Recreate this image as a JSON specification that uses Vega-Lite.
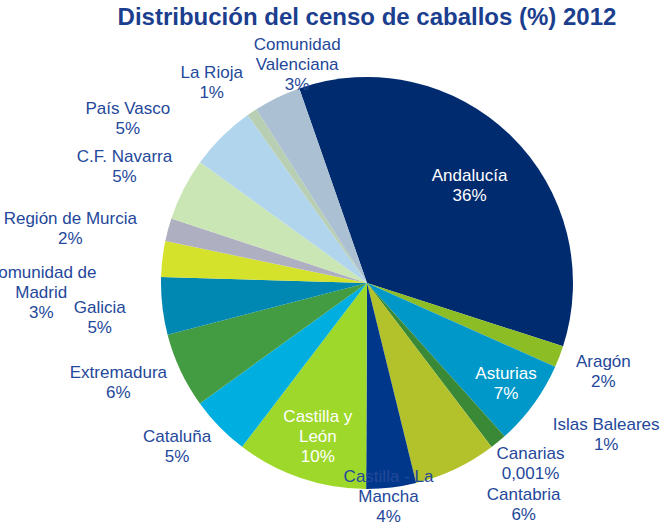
{
  "$schema": "https://vega.github.io/schema/vega-lite/v6.json",
  "width": 600,
  "height": 400,
  "autosize": {"type": "none"},
  "padding": {"left": 67, "top": 83, "right": 1, "bottom": 45},
  "background": "white",
  "view": {"stroke": null},
  "title": {
    "text": "Distribución del censo de caballos (%) 2012",
    "font": "Liberation Sans",
    "fontSize": 24,
    "fontWeight": "bold",
    "color": "#1b3e8e",
    "baseline": "alphabetic",
    "offset": -106,
    "frame": "group"
  },
  "config": {
    "text": {"font": "Liberation Sans", "fontSize": 17, "lineBreak": "\n", "lineHeight": 20, "align": "center", "baseline": "middle", "fill": "#24489a"}
  },
  "data": {
    "values": [
      {"orden": 1, "region": "Andalucía", "valor": 35.3, "label": "Andalucía\n36%"},
      {"orden": 2, "region": "Aragón", "valor": 1.7, "label": "Aragón\n2%"},
      {"orden": 3, "region": "Asturias", "valor": 6.7, "label": "Asturias\n7%"},
      {"orden": 4, "region": "Islas Baleares", "valor": 1.3, "label": "Islas Baleares\n1%"},
      {"orden": 5, "region": "Canarias", "valor": 0.001, "label": "Canarias\n0,001%"},
      {"orden": 6, "region": "Cantabria", "valor": 6.5, "label": "Cantabria\n6%"},
      {"orden": 7, "region": "Castilla - La Mancha", "valor": 3.9, "label": "Castilla - La\nMancha\n4%"},
      {"orden": 8, "region": "Castilla y León", "valor": 10.3, "label": "Castilla y\nLeón\n10%"},
      {"orden": 9, "region": "Cataluña", "valor": 4.7, "label": "Cataluña\n5%"},
      {"orden": 10, "region": "Extremadura", "valor": 5.9, "label": "Extremadura\n6%"},
      {"orden": 11, "region": "Galicia", "valor": 4.5, "label": "Galicia\n5%"},
      {"orden": 12, "region": "Comunidad de Madrid", "valor": 2.8, "label": "Comunidad de\nMadrid\n3%"},
      {"orden": 13, "region": "Región de Murcia", "valor": 1.8, "label": "Región de Murcia\n2%"},
      {"orden": 14, "region": "C.F. Navarra", "valor": 4.9, "label": "C.F. Navarra\n5%"},
      {"orden": 15, "region": "País Vasco", "valor": 5.2, "label": "País Vasco\n5%"},
      {"orden": 16, "region": "La Rioja", "valor": 0.8, "label": "La Rioja\n1%"},
      {"orden": 17, "region": "Comunidad Valenciana", "valor": 3.7, "label": "Comunidad\nValenciana\n3%"}
    ]
  },
  "encoding": {
    "theta": {"field": "valor", "type": "quantitative", "stack": true, "scale": {"range": [-0.3351, 5.9481]}},
    "order": {"field": "orden", "type": "quantitative"}
  },
  "layer": [
    {
      "mark": {"type": "arc", "radius": 206},
      "encoding": {
        "color": {
          "field": "region",
          "type": "nominal",
          "legend": null,
          "scale": {
            "domain": ["Andalucía", "Aragón", "Asturias", "Islas Baleares", "Canarias", "Cantabria", "Castilla - La Mancha", "Castilla y León", "Cataluña", "Extremadura", "Galicia", "Comunidad de Madrid", "Región de Murcia", "C.F. Navarra", "País Vasco", "La Rioja", "Comunidad Valenciana"],
            "range": ["#002b6f", "#8dbd25", "#0098c8", "#3a8936", "#5b9bd5", "#b3c22a", "#00378a", "#9ed82b", "#00afe0", "#439b42", "#0088b3", "#d4e22b", "#afafc2", "#cbe6b5", "#b2d5ee", "#b9cfb4", "#abc0d2"]
          }
        }
      }
    },
    {"mark": {"type": "text", "radius": 141, "dx": 4, "dy": -6, "fill": "white"},
     "encoding": {"text": {"condition": {"test": "datum.orden === 1", "field": "label"}, "value": ""}}},
    {"mark": {"type": "text", "radius": 252, "dx": 1, "dy": -11},
     "encoding": {"text": {"condition": {"test": "datum.orden === 2", "field": "label"}, "value": ""}}},
    {"mark": {"type": "text", "radius": 172, "dx": 0, "dy": -10, "fill": "white"},
     "encoding": {"text": {"condition": {"test": "datum.orden === 3", "field": "label"}, "value": ""}}},
    {"mark": {"type": "text", "radius": 283, "dx": 59, "dy": -76},
     "encoding": {"text": {"condition": {"test": "datum.orden === 4", "field": "label"}, "value": ""}}},
    {"mark": {"type": "text", "radius": 244, "dx": 16, "dy": -23},
     "encoding": {"text": {"condition": {"test": "datum.orden === 5", "field": "label"}, "value": ""}}},
    {"mark": {"type": "text", "radius": 271, "dx": 40, "dy": -33},
     "encoding": {"text": {"condition": {"test": "datum.orden === 6", "field": "label"}, "value": ""}}},
    {"mark": {"type": "text", "radius": 216, "dx": -4, "dy": -20},
     "encoding": {"text": {"condition": {"test": "datum.orden === 7", "field": "label"}, "value": ""}}},
    {"mark": {"type": "text", "radius": 162, "dx": 3, "dy": -19, "fill": "white"},
     "encoding": {"text": {"condition": {"test": "datum.orden === 8", "field": "label"}, "value": ""}}},
    {"mark": {"type": "text", "radius": 251, "dx": -10, "dy": -21},
     "encoding": {"text": {"condition": {"test": "datum.orden === 9", "field": "label"}, "value": ""}}},
    {"mark": {"type": "text", "radius": 268, "dx": -6, "dy": -24},
     "encoding": {"text": {"condition": {"test": "datum.orden === 10", "field": "label"}, "value": ""}}},
    {"mark": {"type": "text", "radius": 269, "dx": 0, "dy": -5},
     "encoding": {"text": {"condition": {"test": "datum.orden === 11", "field": "label"}, "value": ""}}},
    {"mark": {"type": "text", "radius": 326, "dx": -2, "dy": 28},
     "encoding": {"text": {"condition": {"test": "datum.orden === 12", "field": "label"}, "value": ""}}},
    {"mark": {"type": "text", "radius": 302, "dx": -5, "dy": 14},
     "encoding": {"text": {"condition": {"test": "datum.orden === 13", "field": "label"}, "value": ""}}},
    {"mark": {"type": "text", "radius": 269, "dx": -3, "dy": -4},
     "encoding": {"text": {"condition": {"test": "datum.orden === 14", "field": "label"}, "value": ""}}},
    {"mark": {"type": "text", "radius": 290, "dx": -35, "dy": 32},
     "encoding": {"text": {"condition": {"test": "datum.orden === 15", "field": "label"}, "value": ""}}},
    {"mark": {"type": "text", "radius": 253, "dx": -14, "dy": 0},
     "encoding": {"text": {"condition": {"test": "datum.orden === 16", "field": "label"}, "value": ""}}},
    {"mark": {"type": "text", "radius": 229, "dx": 30, "dy": -32},
     "encoding": {"text": {"condition": {"test": "datum.orden === 17", "field": "label"}, "value": ""}}}
  ]
}
